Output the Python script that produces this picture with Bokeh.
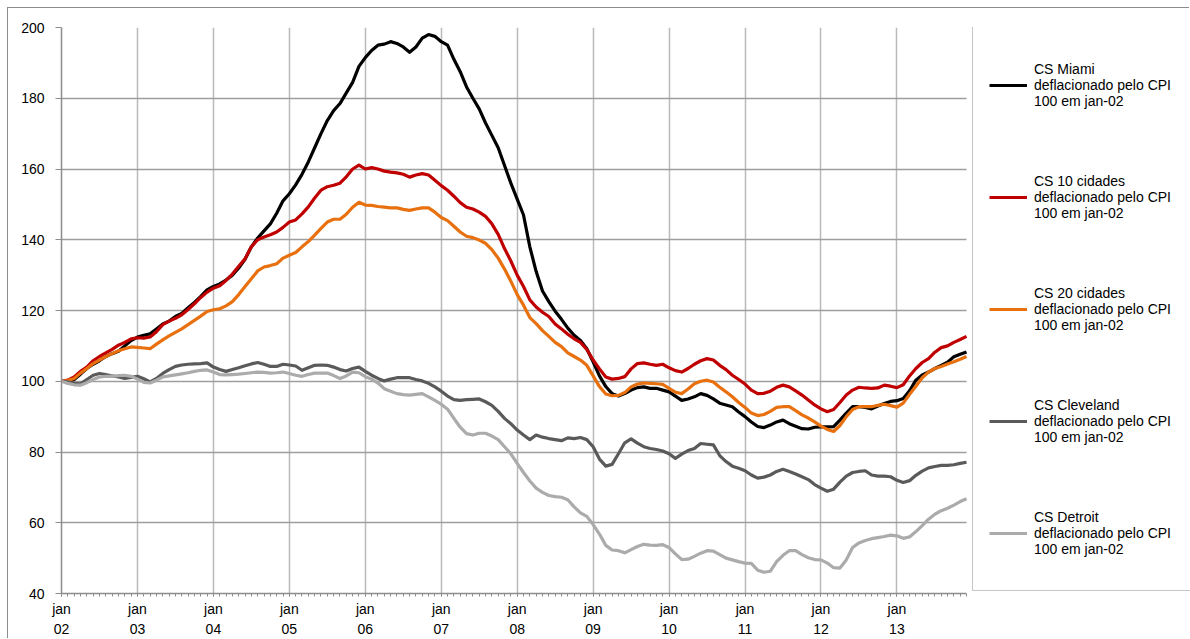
from bokeh.plotting import figure
from bokeh.models import FixedTicker, Legend, LegendItem, Range1d, ColumnDataSource, InlineStyleSheet
from bokeh.embed import file_html
from bokeh.resources import INLINE

# months since jan-02 (0 = jan-02, 143 = dec-13)
months = list(range(144))

year_ticks = [0, 12, 24, 36, 48, 60, 72, 84, 96, 108, 120, 132]
year_labels = ["jan\n02", "jan\n03", "jan\n04", "jan\n05", "jan\n06", "jan\n07",
               "jan\n08", "jan\n09", "jan\n10", "jan\n11", "jan\n12", "jan\n13"]
y_ticks = [40, 60, 80, 100, 120, 140, 160, 180, 200]

miami = [100, 100, 100.5, 102, 103.6, 104.8, 105.8, 107, 107.8, 108.5, 110, 111.5,
         112.5, 113, 113.4, 114.8, 116.2, 117, 118.3, 119.2, 120.8, 122.3, 124, 125.8,
         126.8, 127.5, 128.6, 130, 132, 134.5, 138, 140.5, 142.5, 144.5, 147.5, 151,
         153, 155.5, 158.5, 162, 166, 170, 173.7, 176.5, 178.5, 181.5, 184.5, 189,
         191.5, 193.5, 195, 195.3, 196, 195.5, 194.5, 193, 194.5, 197, 198, 197.5,
         196, 195, 191, 187.5, 183.2, 180, 177, 173, 169.5, 166, 161, 156,
         151.5, 147, 138, 131, 125.5, 122.5, 119.8, 117.5, 115, 113, 111.5, 109.2,
         105.5, 101.5, 98.5, 96.5, 95.8, 96.5, 97.5, 98.2, 98.4, 98, 98, 97.5,
         97, 95.8, 94.6, 95, 95.6, 96.5, 96, 95, 93.8, 93.3, 92.8, 91.3,
         90, 88.5, 87.2, 86.9, 87.6, 88.5, 89, 88, 87.3, 86.6, 86.5, 87,
         87.1, 87.1, 87.2, 89, 91, 92.8, 92.8, 92.6, 92.2, 93, 93.7, 94.3,
         94.5, 95.1, 97.3, 100.3, 101.8, 102.6, 103.6, 104.5, 105.4, 106.9, 107.6, 108.3]

cs10 = [100, 100.3, 101.2, 102.8, 104, 105.8, 107, 108, 109, 110.2, 111, 112,
        112.3, 112.2, 112.5, 114, 116, 117, 117.8, 118.8, 120.3, 121.9, 123.7, 125.2,
        126.3, 127, 128.5, 130.3, 132.5, 134.6, 138, 140, 140.8, 141.4, 142.2, 143.5,
        145, 145.6, 147.3, 149.3, 151.8, 154, 155, 155.4, 156, 157.8, 160, 161.1,
        160, 160.4, 160, 159.4, 159.1, 158.9, 158.5, 157.7, 158.3, 158.7, 158.3, 156.8,
        155.3, 154, 152.3, 150.5, 149.2, 148.7, 147.8, 146.6, 144.5, 141.5, 137.5, 134,
        130, 126.8, 123, 121, 119.5, 118.3, 116.2, 114.8, 113.3, 112, 111, 109,
        106, 103.5, 101.2, 100.6, 100.8, 101.3, 103.5, 105, 105.2, 104.8, 104.5, 104.8,
        103.8, 103, 102.6, 103.6, 104.8, 105.8, 106.4, 106, 104.5, 103.3, 101.7, 100.5,
        99.2, 97.5, 96.5, 96.6, 97.2, 98.3, 98.9, 98.4, 97.3, 96.1, 94.7, 93.3,
        92.2, 91.4, 92, 94, 96.1, 97.5, 98.3, 98.1, 98, 98.1, 98.9, 98.6,
        98.2, 99, 101.5, 103.6, 105.3, 106.4, 108.2, 109.5, 110, 111, 111.8, 112.7]

cs20 = [100, 100.2, 100.8, 102.3, 103.6, 105, 106, 107, 107.8, 108.6, 109.2, 109.7,
        109.6, 109.4, 109.2, 110.5, 111.7, 112.8, 113.8, 114.8, 116, 117.2, 118.4, 119.7,
        120.2, 120.5, 121.3, 122.5, 124.5, 126.8, 129, 131.2, 132.3, 132.7, 133.2, 134.8,
        135.6, 136.4, 138, 139.5, 141.3, 143.2, 145, 145.8, 145.8, 147.2, 149.2, 150.6,
        149.8, 149.7, 149.4, 149.2, 149, 149, 148.6, 148.3, 148.7, 149, 149, 147.8,
        146.3, 145.4, 143.8, 142.2, 141, 140.6, 139.9, 139, 137.2, 134.8, 131.7, 128.3,
        124.5, 121.5, 118, 116.3, 114.3, 112.7, 111, 109.8, 108, 107, 106, 104.5,
        101.5, 98.5, 96.4, 95.9, 96, 96.8, 98.4, 99.2, 99.5, 99.4, 99.3, 99.1,
        98, 96.9, 96.5, 97.8, 99.3, 100, 100.3, 99.8, 98.3, 97, 95.6, 94,
        92.6, 91, 90.3, 90.6, 91.5, 92.6, 92.8, 92.8, 91.7, 90.5, 89.6, 88.5,
        87.3, 86.4, 85.8, 87.5, 90, 92, 92.8, 92.8, 92.8, 93.2, 93.5, 93.1,
        92.7, 93.8, 96.3, 98.6, 101, 102.6, 103.6, 104.2, 104.9, 105.5, 106.2, 107]

cleveland = [100, 99.8, 99.4, 99.3, 100.5, 101.7, 102.2, 101.9, 101.5, 101.2, 100.8, 101.1,
             101.4, 100.7, 99.8, 100.8, 102.2, 103.3, 104.2, 104.6, 104.8, 104.9, 105, 105.2,
             104, 103.3, 102.8, 103.3, 103.8, 104.4, 104.9, 105.3, 104.8, 104.2, 104.2, 104.8,
             104.6, 104.3, 103.1, 103.8, 104.5, 104.6, 104.5, 104, 103.3, 102.9, 103.6, 104,
             102.8, 101.7, 100.8, 100.1, 100.6, 101, 101, 101, 100.5, 100.1, 99.4, 98.4,
             97.2, 95.8, 94.8, 94.6, 94.8, 94.9, 95, 94.2, 93.2, 91.5, 89.5, 88,
             86.2, 84.8, 83.5, 84.8, 84.2, 83.8, 83.5, 83.2, 84, 83.8, 84.1, 83.5,
             81.5, 78, 76, 76.5, 79.5, 82.6, 83.7, 82.5, 81.5, 81, 80.7, 80.3,
             79.5, 78.2, 79.4, 80.4, 81, 82.4, 82.2, 82, 79, 77.3, 76, 75.4,
             74.7, 73.5, 72.6, 72.9, 73.5, 74.5, 75.1, 74.5, 73.8, 73, 72.2, 70.8,
             69.8, 68.9, 69.5, 71.5, 73.2, 74.2, 74.5, 74.7, 73.5, 73.2, 73.2, 73,
             72, 71.4, 71.9, 73.4, 74.6, 75.5, 75.9, 76.2, 76.2, 76.4, 76.8, 77.1]

detroit = [100, 99.4, 99, 98.9, 99.6, 100.5, 101.2, 101.4, 101.4, 101.6, 101.7, 101.4,
           100.6, 99.7, 99.5, 100.3, 101.2, 101.5, 101.8, 102.1, 102.4, 102.8, 103.1, 103.2,
           102.6, 101.9, 101.8, 101.9, 102, 102.2, 102.4, 102.6, 102.5, 102.3, 102.4, 102.6,
           102.2, 101.7, 101.4, 101.9, 102.3, 102.3, 102.3, 101.6, 100.8, 101.5, 102.6, 102.4,
           101.3, 100.6, 99.5, 97.9, 97.2, 96.5, 96.2, 96.1, 96.3, 96.5, 95.6, 94.6,
           93.5, 92.1, 89.5, 87, 85.2, 84.8, 85.3, 85.3, 84.5, 83.5, 81.5, 79.5,
           76.8, 74.2, 71.8, 69.8, 68.6, 67.7, 67.4, 67.2, 66.5, 64.5, 62.8, 61.8,
           59.5, 56.8, 53.6, 52.3, 52.1, 51.5, 52.4, 53.3, 53.9, 53.7, 53.6, 53.8,
           53, 51.2, 49.6, 49.7, 50.5, 51.4, 52.1, 52, 51, 50, 49.5, 49,
           48.6, 48.5, 46.6, 46, 46.3, 49, 50.8, 52.1, 52.1, 51, 50.1, 49.6,
           49.5, 48.6, 47.3, 47.2, 49.5, 53, 54.3, 55, 55.5, 55.8, 56.1, 56.5,
           56.3, 55.6, 56, 57.5, 59.2, 61, 62.4, 63.4, 64.1, 65, 66, 66.8]

series_names = [
    "CS Miami\ndeflacionado pelo CPI\n100 em jan-02",
    "CS 10 cidades\ndeflacionado pelo CPI\n100 em jan-02",
    "CS 20 cidades\ndeflacionado pelo CPI\n100 em jan-02",
    "CS Cleveland\ndeflacionado pelo CPI\n100 em jan-02",
    "CS Detroit\ndeflacionado pelo CPI\n100 em jan-02",
]
series_values = [miami, cs10, cs20, cleveland, detroit]
series_colors = ["#000000", "#C00000", "#E8700F", "#5A5A5A", "#ABABAB"]

FONT = "Liberation Sans"
X_DATA_END = 143
# the frame also holds the legend panel on the right; data area spans 0..143
X_VIEW_END = 178.39

host_css = InlineStyleSheet(css=":host { margin-left: 7px; margin-top: 7px; "
                                "border-top: 1px solid #8c8c8c; border-left: 1px solid #8c8c8c; }")

p = figure(width=1182, height=631, output_backend="svg", toolbar_location=None,
           x_range=Range1d(0, X_VIEW_END), y_range=Range1d(40, 200),
           min_border_left=53, min_border_right=0, min_border_top=19, min_border_bottom=46,
           stylesheets=[host_css])
p.outline_line_color = None
p.background_fill_color = "white"
p.border_fill_color = "white"

p.xaxis.ticker = FixedTicker(ticks=year_ticks, minor_ticks=months)
p.xaxis.major_label_overrides = {t: l for t, l in zip(year_ticks, year_labels)}
p.xaxis.bounds = (0, X_DATA_END)
p.yaxis.ticker = FixedTicker(ticks=y_ticks)

for ax in (p.xaxis[0], p.yaxis[0]):
    ax.axis_line_color = "#8c8c8c"
    ax.axis_line_width = 1.5
    ax.major_tick_line_color = "#8c8c8c"
    ax.minor_tick_line_color = "#8c8c8c"
    ax.major_label_text_font = FONT
    ax.major_label_text_font_size = "14px"
    ax.major_label_text_color = "#000000"
    ax.major_tick_in = 0
    ax.minor_tick_in = 0

p.xaxis.major_tick_out = 3
p.xaxis.minor_tick_out = 3
p.xaxis.major_label_standoff = 4
p.xaxis.major_label_text_line_height = 1.25
p.yaxis.major_tick_out = 6
p.yaxis.minor_tick_line_color = None
p.yaxis.major_label_standoff = 11

p.xgrid.ticker = FixedTicker(ticks=year_ticks)
p.xgrid.grid_line_color = "#b9b9b9"
p.xgrid.grid_line_width = 1.5
p.ygrid.ticker = FixedTicker(ticks=y_ticks)
p.ygrid.grid_line_color = "#9e9e9e"
p.ygrid.grid_line_width = 1.5
ygrid_model = p.ygrid[0]
if "cross_bounds" in ygrid_model.properties():
    ygrid_model.cross_bounds = (0, X_DATA_END)

items = []
for name, vals, col in zip(series_names, series_values, series_colors):
    src = ColumnDataSource(dict(m=months, v=vals))
    r = p.line("m", "v", source=src, line_color=col, line_width=3.2, line_join="round")
    items.append(LegendItem(label=name, renderers=[r]))

legend = Legend(items=items, location=(911, 2), orientation="vertical",
                padding=16, spacing=29, margin=0,
                glyph_width=38, glyph_height=20, label_standoff=7,
                label_width=140, label_height=83,
                label_text_font=FONT, label_text_font_size="14px",
                label_text_line_height=1.15, label_text_color="#000000",
                border_line_color="#8c8c8c", border_line_width=1.2,
                background_fill_color="white", background_fill_alpha=1)
p.add_layout(legend, "center")

open("out.html", "w").write(file_html(p, INLINE))
